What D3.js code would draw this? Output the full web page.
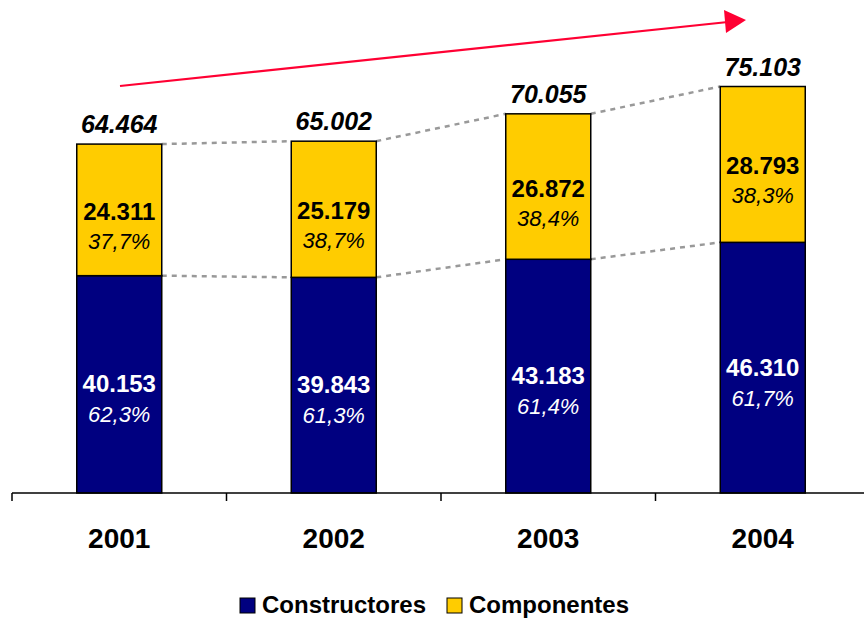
<!DOCTYPE html>
<html>
<head>
<meta charset="utf-8">
<script src="https://cdn.jsdelivr.net/npm/d3@7"></script>
<style>
  body { margin: 0; background: #fff; }
  svg text { font-family: Arial, "Liberation Sans", sans-serif; }
</style>
</head>
<body>
<div id="chart"></div>
<script>
var years = ["2001", "2002", "2003", "2004"];
var constructores = [40153, 39843, 43183, 46310];
var componentes = [24311, 25179, 26872, 28793];
var totals = [64464, 65002, 70055, 75103];
var pctConstr = ["62,3%", "61,3%", "61,4%", "61,7%"];
var pctComp = ["37,7%", "38,7%", "38,4%", "38,3%"];
var seriesNames = ["Constructores", "Componentes"];

var fmt = function(v){ return d3.format(",")(v).replace(/,/g, "."); };

var width = 864, height = 619;
var colors = ["#000080", "#FFCC00"];

var svg = d3.select("#chart").append("svg")
  .attr("width", width)
  .attr("height", height);

var x = d3.scaleBand().domain(years).range([12, 870]).paddingInner(0).paddingOuter(0);
var y = d3.scaleLinear().domain([0, 80000]).range([493, 60]);
var barW = 85;

var data = years.map(function(yr, i){
  return {year: yr, c: constructores[i], k: componentes[i], t: totals[i], pc: pctConstr[i], pk: pctComp[i]};
});

function cx(d){ return x(d.year) + x.bandwidth()/2; }

// dashed connector lines
var dash = svg.append("g");
for (var i = 0; i < data.length - 1; i++) {
  var a = data[i], b = data[i+1];
  ["t", "c"].forEach(function(k){
    dash.append("line")
      .attr("x1", cx(a) + barW/2).attr("y1", y(a[k]))
      .attr("x2", cx(b) - barW/2).attr("y2", y(b[k]))
      .attr("stroke", "#999")
      .attr("stroke-width", 2.5)
      .attr("stroke-dasharray", "5,5");
  });
}

// bars
var bars = svg.append("g").selectAll("g").data(data).enter().append("g");
bars.append("rect")
  .attr("x", function(d){ return cx(d) - barW/2; })
  .attr("y", function(d){ return y(d.c); })
  .attr("width", barW)
  .attr("height", function(d){ return y(0) - y(d.c); })
  .attr("fill", colors[0])
  .attr("stroke", "#000").attr("stroke-width", 1.5);
bars.append("rect")
  .attr("x", function(d){ return cx(d) - barW/2; })
  .attr("y", function(d){ return y(d.t); })
  .attr("width", barW)
  .attr("height", function(d){ return y(d.c) - y(d.t); })
  .attr("fill", colors[1])
  .attr("stroke", "#000").attr("stroke-width", 1.5);

// labels inside bars
bars.append("text")
  .attr("x", cx)
  .attr("y", function(d){ return (y(0) + y(d.c))/2 + 8; })
  .attr("text-anchor", "middle")
  .attr("fill", "#fff").attr("font-weight", "bold").attr("font-size", 24)
  .text(function(d){ return fmt(d.c); });
bars.append("text")
  .attr("x", cx)
  .attr("y", function(d){ return (y(0) + y(d.c))/2 + 38; })
  .attr("text-anchor", "middle")
  .attr("fill", "#fff").attr("font-style", "italic").attr("font-size", 22)
  .text(function(d){ return d.pc; });
bars.append("text")
  .attr("x", cx)
  .attr("y", function(d){ return (y(d.c) + y(d.t))/2 + 10; })
  .attr("text-anchor", "middle")
  .attr("fill", "#000").attr("font-weight", "bold").attr("font-size", 24)
  .text(function(d){ return fmt(d.k); });
bars.append("text")
  .attr("x", cx)
  .attr("y", function(d){ return (y(d.c) + y(d.t))/2 + 39; })
  .attr("text-anchor", "middle")
  .attr("fill", "#000").attr("font-style", "italic").attr("font-size", 22)
  .text(function(d){ return d.pk; });

// totals
bars.append("text")
  .attr("x", cx)
  .attr("y", function(d){ return y(d.t) - 11; })
  .attr("text-anchor", "middle")
  .attr("fill", "#000").attr("font-weight", "bold").attr("font-style", "italic").attr("font-size", 25)
  .text(function(d){ return fmt(d.t); });

// x axis
var xAxis = svg.append("g")
  .attr("transform", "translate(0," + y(0) + ")");
xAxis.append("line")
  .attr("x1", 12).attr("x2", width).attr("y1", 0).attr("y2", 0)
  .attr("stroke", "#000").attr("stroke-width", 1.5);
years.forEach(function(yr){
  xAxis.append("line")
    .attr("x1", x(yr)).attr("x2", x(yr)).attr("y1", 0).attr("y2", 8)
    .attr("stroke", "#000").attr("stroke-width", 1.5);
  xAxis.append("text")
    .attr("x", x(yr) + x.bandwidth()/2)
    .attr("y", 55)
    .attr("text-anchor", "middle")
    .attr("font-weight", "bold").attr("font-size", 28)
    .text(yr);
});

// red trend arrow
svg.append("line")
  .attr("x1", 120).attr("y1", 86)
  .attr("x2", 728).attr("y2", 22)
  .attr("stroke", "#ff0033").attr("stroke-width", 2.2);
svg.append("path")
  .attr("d", "M724,10 L746,20 L726,33 Z")
  .attr("fill", "#ff0033");

// legend
var legend = svg.append("g");
var lx = [240, 447];
seriesNames.forEach(function(n, i){
  legend.append("rect")
    .attr("x", lx[i]).attr("y", 598)
    .attr("width", 15).attr("height", 15)
    .attr("fill", colors[i]).attr("stroke", "#000").attr("stroke-width", 1);
  legend.append("text")
    .attr("x", lx[i] + 22).attr("y", 613)
    .attr("font-weight", "bold").attr("font-size", 24)
    .text(n);
});
</script>
</body>
</html>
